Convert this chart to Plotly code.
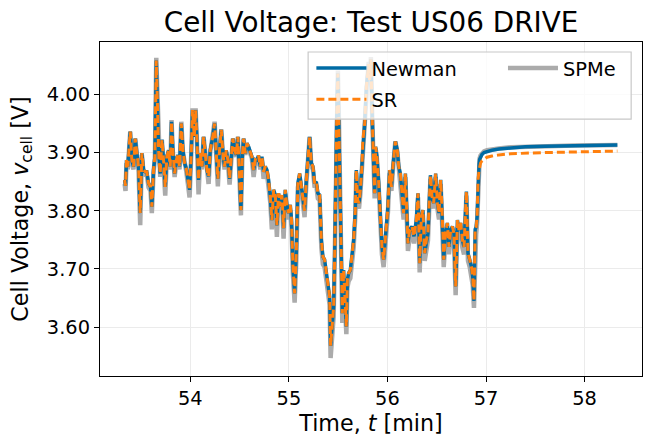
import plotly.graph_objects as go

# ---- data (time in min, voltage in V) ----
# US06 drive part
t_drive = [
    53.333, 53.342, 53.352, 53.365, 53.390, 53.406, 53.423, 53.441, 53.457, 53.474,
    53.491, 53.508, 53.525, 53.542, 53.558, 53.576, 53.596, 53.609, 53.626, 53.640,
    53.654, 53.667, 53.680, 53.694, 53.711, 53.728, 53.745, 53.761, 53.779, 53.796,
    53.809, 53.822, 53.840, 53.857, 53.873, 53.890, 53.908, 53.924, 53.941, 53.958,
    53.975, 53.992, 54.009, 54.022, 54.040, 54.053, 54.066, 54.083, 54.101, 54.117,
    54.134, 54.151, 54.168, 54.185, 54.202, 54.222, 54.246, 54.263, 54.279, 54.296,
    54.314, 54.330, 54.347, 54.364, 54.381, 54.398, 54.415, 54.431, 54.449, 54.466,
    54.482, 54.499, 54.513, 54.527, 54.540, 54.557, 54.574, 54.591, 54.608, 54.624,
    54.642, 54.659, 54.675, 54.692, 54.710, 54.726, 54.743, 54.760, 54.777, 54.794,
    54.811, 54.827, 54.845, 54.862, 54.878, 54.895, 54.913, 54.929, 54.946, 54.963,
    54.980, 54.997, 55.014, 55.026, 55.041, 55.058, 55.075, 55.091, 55.109, 55.126,
    55.142, 55.159, 55.177, 55.193, 55.210, 55.227, 55.244, 55.261, 55.278, 55.294,
    55.312, 55.329, 55.345, 55.362, 55.379, 55.396, 55.413, 55.423, 55.437, 55.454,
    55.464, 55.474, 55.487, 55.497, 55.508, 55.522, 55.532, 55.542, 55.555, 55.569,
    55.583, 55.593, 55.606, 55.623, 55.640, 55.657, 55.674, 55.684, 55.697, 55.711,
    55.725, 55.741, 55.751, 55.769, 55.786, 55.796, 55.809, 55.819, 55.832, 55.847,
    55.860, 55.870, 55.880, 55.893, 55.911, 55.928, 55.944, 55.961, 55.972, 55.989,
    56.005, 56.022, 56.040, 56.056, 56.080, 56.100, 56.114, 56.131, 56.147, 56.164,
    56.182, 56.195, 56.208, 56.225, 56.249, 56.269, 56.293, 56.310, 56.327, 56.344,
    56.360, 56.378, 56.395, 56.411, 56.436, 56.452, 56.469, 56.489, 56.507, 56.523,
    56.540, 56.553, 56.571, 56.588, 56.608, 56.624, 56.642, 56.659, 56.675, 56.692,
    56.710, 56.726, 56.743, 56.760, 56.777, 56.801, 56.817, 56.835, 56.852, 56.865,
    56.878, 56.890, 56.900, 56.910, 56.920,
]

newman_drive = [
    3.853, 3.843, 3.887, 3.876, 3.936, 3.887, 3.876, 3.924, 3.899, 3.876,
    3.796, 3.899, 3.870, 3.867, 3.867, 3.847, 3.841, 3.807, 3.870, 3.893,
    4.058, 3.979, 3.893, 3.864, 3.922, 3.887, 3.841, 3.893, 3.904, 3.876,
    3.953, 3.904, 3.864, 3.887, 3.896, 3.876, 3.950, 3.904, 3.882, 3.873,
    3.853, 3.836, 3.899, 3.973, 3.927, 3.973, 3.922, 3.853, 3.899, 3.876,
    3.927, 3.899, 3.870, 3.859, 3.904, 3.922, 3.950, 3.899, 3.855, 3.904,
    3.939, 3.899, 3.876, 3.904, 3.887, 3.855, 3.896, 3.924, 3.904, 3.896,
    3.927, 3.864, 3.801, 3.893, 3.924, 3.899, 3.916, 3.910, 3.899, 3.893,
    3.870, 3.888, 3.887, 3.895, 3.876, 3.893, 3.867, 3.876, 3.870, 3.853,
    3.824, 3.784, 3.836, 3.827, 3.775, 3.830, 3.807, 3.827, 3.770, 3.836,
    3.807, 3.796, 3.810, 3.785, 3.704, 3.658, 3.727, 3.847, 3.864, 3.841,
    3.824, 3.800, 3.853, 3.893, 3.927, 3.882, 3.876, 3.847, 3.850, 3.830,
    3.827, 3.750, 3.721, 3.716, 3.693, 3.670, 3.653, 3.568, 3.595, 3.635,
    3.721, 3.864, 3.979, 4.036, 3.950, 3.807, 3.704, 3.624, 3.698, 3.658,
    3.601, 3.681, 3.693, 3.698, 3.727, 3.750, 3.801, 3.870, 3.819, 3.813,
    3.836, 3.876, 3.922, 3.950, 4.013, 4.036, 4.052, 4.025, 4.060, 3.950,
    3.899, 3.830, 3.910, 3.893, 3.847, 3.784, 3.738, 3.716, 3.740, 3.767,
    3.807, 3.870, 3.841, 3.876, 3.919, 3.904, 3.876, 3.864, 3.824, 3.796,
    3.864, 3.784, 3.744, 3.767, 3.773, 3.756, 3.784, 3.830, 3.710, 3.790,
    3.801, 3.727, 3.750, 3.761, 3.861, 3.824, 3.813, 3.864, 3.813, 3.796,
    3.853, 3.807, 3.716, 3.761, 3.779, 3.738, 3.767, 3.773, 3.761, 3.670,
    3.784, 3.767, 3.779, 3.750, 3.738, 3.833, 3.727, 3.716, 3.704, 3.687,
    3.645, 3.768, 3.772, 3.790, 3.855,
]

# SR sits right on top of Newman while driving
sr_drive = [
    3.853, 3.843, 3.887, 3.876, 3.936, 3.887, 3.876, 3.924, 3.899, 3.876,
    3.796, 3.899, 3.870, 3.867, 3.867, 3.847, 3.841, 3.807, 3.870, 3.893,
    4.058, 3.979, 3.893, 3.864, 3.922, 3.887, 3.841, 3.893, 3.904, 3.876,
    3.953, 3.904, 3.864, 3.887, 3.896, 3.876, 3.950, 3.904, 3.882, 3.873,
    3.853, 3.836, 3.899, 3.973, 3.927, 3.973, 3.922, 3.853, 3.899, 3.876,
    3.927, 3.899, 3.870, 3.859, 3.904, 3.922, 3.950, 3.899, 3.855, 3.904,
    3.939, 3.899, 3.876, 3.904, 3.887, 3.855, 3.896, 3.924, 3.904, 3.896,
    3.927, 3.864, 3.801, 3.893, 3.924, 3.899, 3.916, 3.910, 3.899, 3.893,
    3.870, 3.888, 3.887, 3.895, 3.876, 3.893, 3.867, 3.876, 3.870, 3.853,
    3.824, 3.784, 3.836, 3.827, 3.775, 3.830, 3.807, 3.827, 3.770, 3.836,
    3.807, 3.796, 3.810, 3.785, 3.704, 3.658, 3.727, 3.847, 3.864, 3.841,
    3.824, 3.800, 3.853, 3.893, 3.927, 3.882, 3.876, 3.847, 3.850, 3.830,
    3.827, 3.750, 3.721, 3.716, 3.693, 3.670, 3.653, 3.568, 3.595, 3.635,
    3.721, 3.864, 3.979, 4.036, 3.950, 3.807, 3.704, 3.624, 3.698, 3.658,
    3.601, 3.681, 3.693, 3.698, 3.727, 3.750, 3.801, 3.870, 3.819, 3.813,
    3.836, 3.876, 3.922, 3.950, 4.013, 4.036, 4.052, 4.025, 4.060, 3.950,
    3.899, 3.830, 3.910, 3.893, 3.847, 3.784, 3.738, 3.716, 3.740, 3.767,
    3.807, 3.870, 3.841, 3.876, 3.919, 3.904, 3.876, 3.864, 3.824, 3.796,
    3.864, 3.784, 3.744, 3.767, 3.773, 3.756, 3.784, 3.830, 3.710, 3.790,
    3.801, 3.727, 3.750, 3.761, 3.861, 3.824, 3.813, 3.864, 3.813, 3.796,
    3.853, 3.807, 3.716, 3.761, 3.779, 3.738, 3.767, 3.773, 3.761, 3.670,
    3.784, 3.767, 3.779, 3.750, 3.738, 3.833, 3.727, 3.716, 3.704, 3.687,
    3.645, 3.768, 3.772, 3.790, 3.855,
]

spme_drive = [
    3.846, 3.834, 3.882, 3.871, 3.936, 3.882, 3.871, 3.924, 3.896, 3.871,
    3.775, 3.896, 3.865, 3.862, 3.862, 3.840, 3.834, 3.796, 3.865, 3.890,
    4.063, 3.982, 3.890, 3.858, 3.922, 3.882, 3.826, 3.890, 3.901, 3.871,
    3.956, 3.901, 3.858, 3.882, 3.893, 3.871, 3.953, 3.901, 3.877, 3.868,
    3.846, 3.823, 3.896, 3.976, 3.927, 3.976, 3.922, 3.828, 3.896, 3.871,
    3.927, 3.896, 3.865, 3.846, 3.901, 3.922, 3.953, 3.896, 3.842, 3.901,
    3.940, 3.896, 3.871, 3.901, 3.882, 3.845, 3.893, 3.924, 3.901, 3.893,
    3.927, 3.858, 3.792, 3.890, 3.924, 3.896, 3.913, 3.907, 3.896, 3.890,
    3.858, 3.883, 3.882, 3.892, 3.871, 3.890, 3.855, 3.871, 3.865, 3.846,
    3.814, 3.768, 3.829, 3.818, 3.755, 3.823, 3.798, 3.818, 3.752, 3.829,
    3.798, 3.785, 3.801, 3.772, 3.690, 3.642, 3.714, 3.840, 3.858, 3.834,
    3.815, 3.789, 3.846, 3.890, 3.927, 3.877, 3.871, 3.840, 3.843, 3.821,
    3.818, 3.737, 3.708, 3.703, 3.678, 3.655, 3.638, 3.547, 3.578, 3.618,
    3.708, 3.858, 3.983, 4.041, 3.952, 3.798, 3.690, 3.607, 3.684, 3.643,
    3.588, 3.667, 3.679, 3.684, 3.714, 3.737, 3.792, 3.865, 3.810, 3.804,
    3.829, 3.871, 3.922, 3.953, 4.017, 4.040, 4.056, 4.029, 4.064, 3.953,
    3.896, 3.821, 3.907, 3.890, 3.840, 3.772, 3.725, 3.703, 3.727, 3.755,
    3.798, 3.865, 3.834, 3.871, 3.919, 3.901, 3.871, 3.858, 3.815, 3.785,
    3.858, 3.772, 3.731, 3.755, 3.761, 3.744, 3.772, 3.823, 3.694, 3.779,
    3.792, 3.714, 3.737, 3.749, 3.855, 3.815, 3.804, 3.858, 3.804, 3.785,
    3.846, 3.798, 3.703, 3.749, 3.767, 3.725, 3.755, 3.761, 3.749, 3.655,
    3.772, 3.755, 3.767, 3.737, 3.725, 3.826, 3.714, 3.703, 3.690, 3.672,
    3.633, 3.756, 3.760, 3.779, 3.850,
]

# relaxation after the drive cycle
t_rest = [56.930, 56.935, 56.945, 56.960, 56.980, 57.010, 57.060,
          57.130, 57.250, 57.400, 57.600, 57.900, 58.333]
newman_rest = [3.880, 3.888, 3.893, 3.897, 3.900, 3.902, 3.904,
               3.906, 3.908, 3.910, 3.911, 3.912, 3.913]
sr_rest = [3.870, 3.876, 3.882, 3.886, 3.889, 3.892, 3.894,
           3.896, 3.898, 3.899, 3.900, 3.901, 3.9025]
spme_rest = [3.882, 3.890, 3.895, 3.899, 3.902, 3.904, 3.906,
             3.907, 3.909, 3.910, 3.911, 3.912, 3.913]

t_min = t_drive + t_rest
v_newman = newman_drive + newman_rest
v_sr = sr_drive + sr_rest
v_spme = spme_drive + spme_rest

BLUE = "#006BA4"
ORANGE = "#FF800E"
GREY = "#ABABAB"
FONT = "DejaVu Sans"

fig = go.Figure()

# grey underneath, then Newman, dashed SR on top
fig.add_trace(go.Scatter(x=t_min, y=v_spme, mode="lines", name="SPMe",
                         line=dict(color=GREY, width=4.5),
                         legend="legend2"))
fig.add_trace(go.Scatter(x=t_min, y=v_newman, mode="lines", name="Newman",
                         line=dict(color=BLUE, width=3.5),
                         legend="legend", legendgroup="a", legendrank=1))
fig.add_trace(go.Scatter(x=t_min, y=v_sr, mode="lines", name="SR",
                         line=dict(color=ORANGE, width=3, dash="8px,4px"),
                         legend="legend", legendgroup="b", legendrank=2))

axis_common = dict(
    showline=True, linecolor="black", linewidth=1.2, mirror=True,
    ticks="outside", ticklen=5, tickwidth=1.1, tickcolor="black",
    showgrid=True, gridcolor="#ebebeb", gridwidth=1, zeroline=False,
    automargin=False,
    tickfont=dict(family=FONT, size=19.4, color="black"),
)

fig.update_layout(
    width=651, height=448,
    margin=dict(l=100, r=9, t=42, b=72, autoexpand=False),
    plot_bgcolor="white", paper_bgcolor="white",
    font=dict(family=FONT, color="black"),
    title=dict(text="Cell Voltage: Test US06 DRIVE", x=0.5, xref="paper",
               xanchor="center", y=0.951, yref="container", yanchor="middle",
               font=dict(family=FONT, size=27.8, color="black")),
    xaxis=dict(range=[53.083, 58.583], dtick=1, tick0=54,
               title=dict(text="Time, <i>t</i> [min]", standoff=6,
                          font=dict(family=FONT, size=22.2)),
               **axis_common),
    yaxis=dict(range=[3.516, 4.090], dtick=0.1, tick0=3.6, tickformat=".2f",
               title=dict(text="Cell Voltage, <i>v</i><sub>cell</sub> [V]",
                          standoff=12, font=dict(family=FONT, size=22.2)),
               **axis_common),
    legend=dict(x=0.390, y=0.979, xanchor="left", yanchor="top",
                bgcolor="rgba(0,0,0,0)", borderwidth=0, itemwidth=50,
                traceorder="grouped", tracegroupgap=3,
                font=dict(family=FONT, size=19.4, color="black")),
    legend2=dict(x=0.7435, y=0.979, xanchor="left", yanchor="top",
                 bgcolor="rgba(0,0,0,0)", borderwidth=0, itemwidth=50,
                 font=dict(family=FONT, size=19.4, color="black")),
)

# legend frame: semi transparent white with a light grey edge
fig.add_shape(type="rect", xref="x domain", yref="y domain",
              x0=0.384, x1=0.980, y0=0.769, y1=0.970,
              fillcolor="rgba(255,255,255,0.8)",
              line=dict(color="#c8c8c8", width=1.2), layer="above")

# the page body has a default 8px margin; drop it so the figure sits at 0,0
fig.write_html("out.html", config={"displayModeBar": False},
               post_script="document.body.style.margin='0';")
